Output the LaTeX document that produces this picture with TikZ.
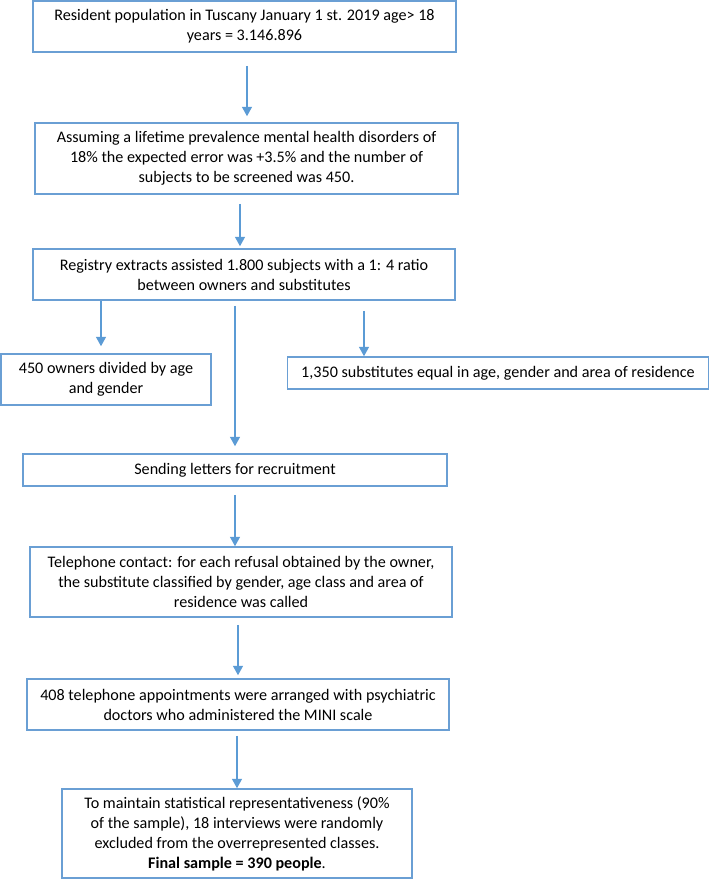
\documentclass[tikz,border=0pt]{standalone}
\usepackage{fontspec}
\setmainfont{Carlito}
\usetikzlibrary{arrows.meta}
\definecolor{bxblue}{RGB}{106,159,212}
\definecolor{arblue}{RGB}{91,155,213}
\tikzset{
  box/.style 2 args={draw=bxblue, line width=1.2pt, rectangle, inner sep=0pt,
    minimum width=#1*0.75pt, minimum height=#2*0.75pt, align=center,
    font=\fontsize{12.1}{15}\selectfont, text=black},
  arr/.style={draw=arblue, line width=0.8pt, -{Triangle[width=7.5pt,length=7pt]}}
}
\begin{document}
\begin{tikzpicture}[x=0.75pt,y=-0.75pt]
\useasboundingbox (0,0) rectangle (710,879);
\node[box={423}{51}] (b1) at (244.5,26.5) {Resident population in Tuscany January 1 st. 2019 age> 18\\years = 3.146.896};
\node[box={423}{71}] (b2) at (246.5,158.5) {Assuming a lifetime prevalence mental health disorders of\\18\% the expected error was +3.5\% and the number of\\subjects to be screened was 450.};
\node[box={422}{51}] (b3) at (244,274.5) {Registry extracts assisted 1.800 subjects with a 1: 4 ratio\\between owners and substitutes};
\node[box={210}{51}] (b4) at (106,379.5) {450 owners divided by age\\and gender};
\node[box={421}{32}] (b5) at (498,373) {1,350 substitutes equal in age, gender and area of residence};
\node[box={424}{32}] (b6) at (235,470) {Sending letters for recruitment};
\node[box={422}{70}] (b7) at (241,582) {Telephone contact: for each refusal obtained by the owner,\\the substitute classified by gender, age class and area of\\residence was called};
\node[box={422}{51}] (b8) at (238,704.5) {408 telephone appointments were arranged with psychiatric\\doctors who administered the MINI scale};
\node[box={350}{89}] (b9) at (237,833.5) {To maintain statistical representativeness (90\%\\of the sample), 18 interviews were randomly\\excluded from the overrepresented classes.\\\textbf{Final sample = 390 people}.};
\coordinate (c1) at (247,0);
\coordinate (c2) at (240,0);
\coordinate (cL) at (101,0);
\coordinate (cM) at (235,0);
\coordinate (cR) at (364,0);
\coordinate (c6) at (235,0);
\coordinate (c7) at (238,0);
\coordinate (c8) at (237,0);
\draw[arr, shorten <=9.75pt, shorten >=4.5pt] (b1.south -| c1) -- (b2.north -| c1);
\draw[arr, shorten <=6.75pt, shorten >=1.5pt] (b2.south -| c2) -- (b3.north -| c2);
\draw[arr, shorten >=5.25pt] (b3.south -| cL) -- (b4.north -| cL);
\draw[arr, shorten <=3.75pt, shorten >=5.25pt] (b3.south -| cM) -- (b6.north -| cM);
\draw[arr, shorten <=7.5pt] (b3.south -| cR) -- (b5.north -| cR);
\draw[arr, shorten <=6pt] (b6.south -| c6) -- (b7.north -| c6);
\draw[arr, shorten <=5.25pt, shorten >=2.25pt] (b7.south -| c7) -- (b8.north -| c7);
\draw[arr, shorten <=3.75pt] (b8.south -| c8) -- (b9.north -| c8);
\end{tikzpicture}
\end{document}
